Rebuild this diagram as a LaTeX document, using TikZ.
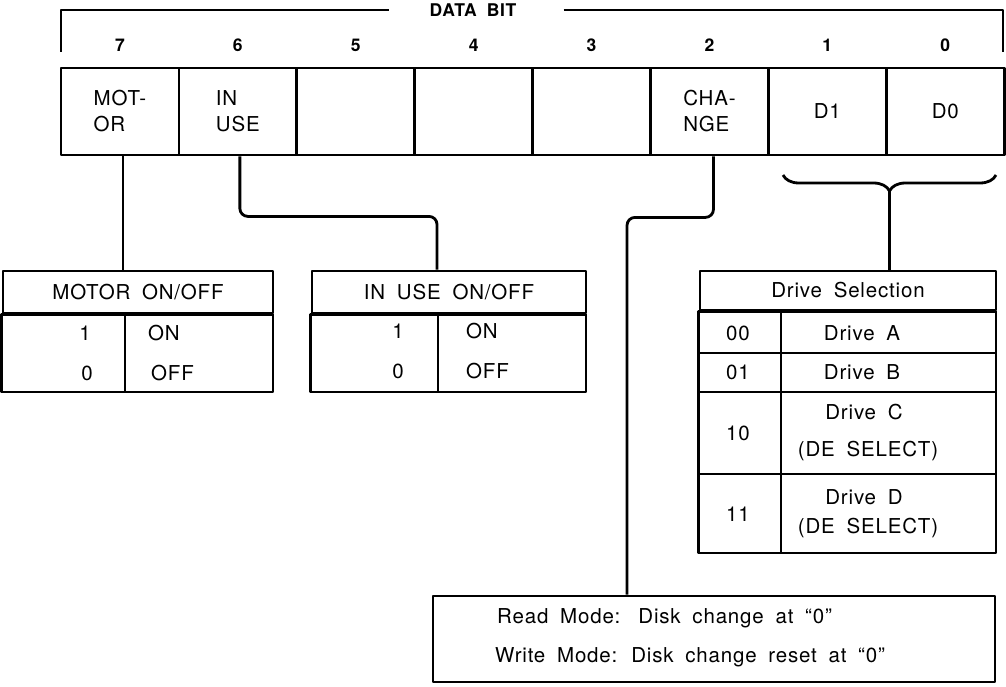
\documentclass[tikz,border=0pt]{standalone}
\usepackage{fontspec}
\setmainfont{TeX Gyre Heros}[LetterSpace=4,WordSpace=1.8]
\usetikzlibrary{calc,decorations.pathreplacing}

\tikzset{
    box/.style={draw, line width=2.8pt, inner sep=0pt},
    link/.style={line width=2.8pt, rounded corners=8pt},
    lbl/.style={inner sep=0pt, font=\fontsize{20.5}{26}\selectfont},
    num/.style={inner sep=0pt, font=\fontsize{17.5}{20}\selectfont\bfseries},
}

\begin{document}
\begin{tikzpicture}[x=1pt, y=-1pt, line join=round]
    \useasboundingbox (0,0) rectangle (1006,687);

    % Data bit bracket
    \node[num] (dbit) at (473,10) {DATA BIT};
    \draw[line width=2.8pt] (61,52) |- ([xshift=-40pt]dbit.west);
    \draw[line width=2.8pt] ([xshift=47pt]dbit.east) -| (1003,52);

    % Register cells with bit numbers
    \foreach \b/\txt [count=\k from 0] in {7/{MOT-\\OR},6/{IN\\USE},5/{},4/{},3/{},2/{CHA-\\NGE},1/D1,0/D0}{
        \node[box, minimum width=117.9pt, minimum height=87pt] (b\b) at ({61+117.9*(\k+0.5)},111.5) {};
        \node[lbl, align=left] (t\b) at (b\b) {\txt};
        \node[num] (n\b) at ($(b\b.north)+(0,-21)$) {\b};
    }

    % Motor on/off table
    \node[box, lbl, minimum width=270pt, minimum height=42pt] (mhead) at (138,292) {MOTOR ON/OFF};
    \draw[box] (mhead.south west) rectangle (273,392) (125,313) -- (125,392);
    \node[lbl] (m1) at (85,333) {1};
    \node[lbl, anchor=west] (mon) at (148,333) {ON};
    \node[lbl] (m0) at (87,373) {0};
    \node[lbl, anchor=west] (moff) at (151,373) {OFF};

    % In use on/off table
    \node[box, lbl, minimum width=274pt, minimum height=42pt] (uhead) at (449,292) {IN USE ON/OFF};
    \draw[box] (uhead.south west) rectangle (586,392) (438,313) -- (438,392);
    \node[lbl] (u1) at (398,331) {1};
    \node[lbl, anchor=west] (uon) at (466,331) {ON};
    \node[lbl] (u0) at (398,371) {0};
    \node[lbl, anchor=west] (uoff) at (466,371) {OFF};

    % Drive selection table
    \node[box, lbl, minimum width=296pt, minimum height=39pt] (dhead) at (848,290.5) {Drive Selection};
    \draw[box] (dhead.south west) rectangle (996,553) (781,310) -- (781,553);
    \draw[box] (700,353) -- (996,353) (700,392) -- (996,392) (700,474) -- (996,474);
    \node[lbl] (d00) at (738,333) {00};
    \node[lbl] (da) at (862,333) {Drive A};
    \node[lbl] (d01) at (738,372) {01};
    \node[lbl] (db) at (862,372) {Drive B};
    \node[lbl] (d10) at (738,433) {10};
    \node[lbl] (dc) at (864,412) {Drive C};
    \node[lbl] (dcs) at (868,451) {(DE SELECT)};
    \node[lbl] (d11) at (738,514) {11};
    \node[lbl] (dd) at (864,497) {Drive D};
    \node[lbl] (dds) at (868,528) {(DE SELECT)};

    % Disk change note
    \node[box, minimum width=562pt, minimum height=86pt] (note) at (714,639) {};
    \node[lbl, anchor=west] (rmode) at (497,618) {Read Mode:\hspace{18pt}Disk change at ``0''};
    \node[lbl, anchor=west] (wmode) at (495,657) {Write Mode: Disk change reset at ``0''};

    % Connectors
    \draw[link] ([xshift=3pt]b7.south) -- ([xshift=3pt]b7.south |- mhead.north);
    \draw[link] ([xshift=2pt]b6.south) -- ++(0,60) -| ([xshift=-12pt]uhead.north);
    \draw[link] ([xshift=4pt]b2.south) -- ++(0,61) -| ([xshift=-87pt]note.north);
    \draw[line width=2.8pt, decorate, decoration={brace, amplitude=16pt}] (996,175) -- (783,175);
    \coordinate (dtip) at (889.5,191);
    \draw[link] (dtip) -- (dtip |- dhead.north);
\end{tikzpicture}
\end{document}
